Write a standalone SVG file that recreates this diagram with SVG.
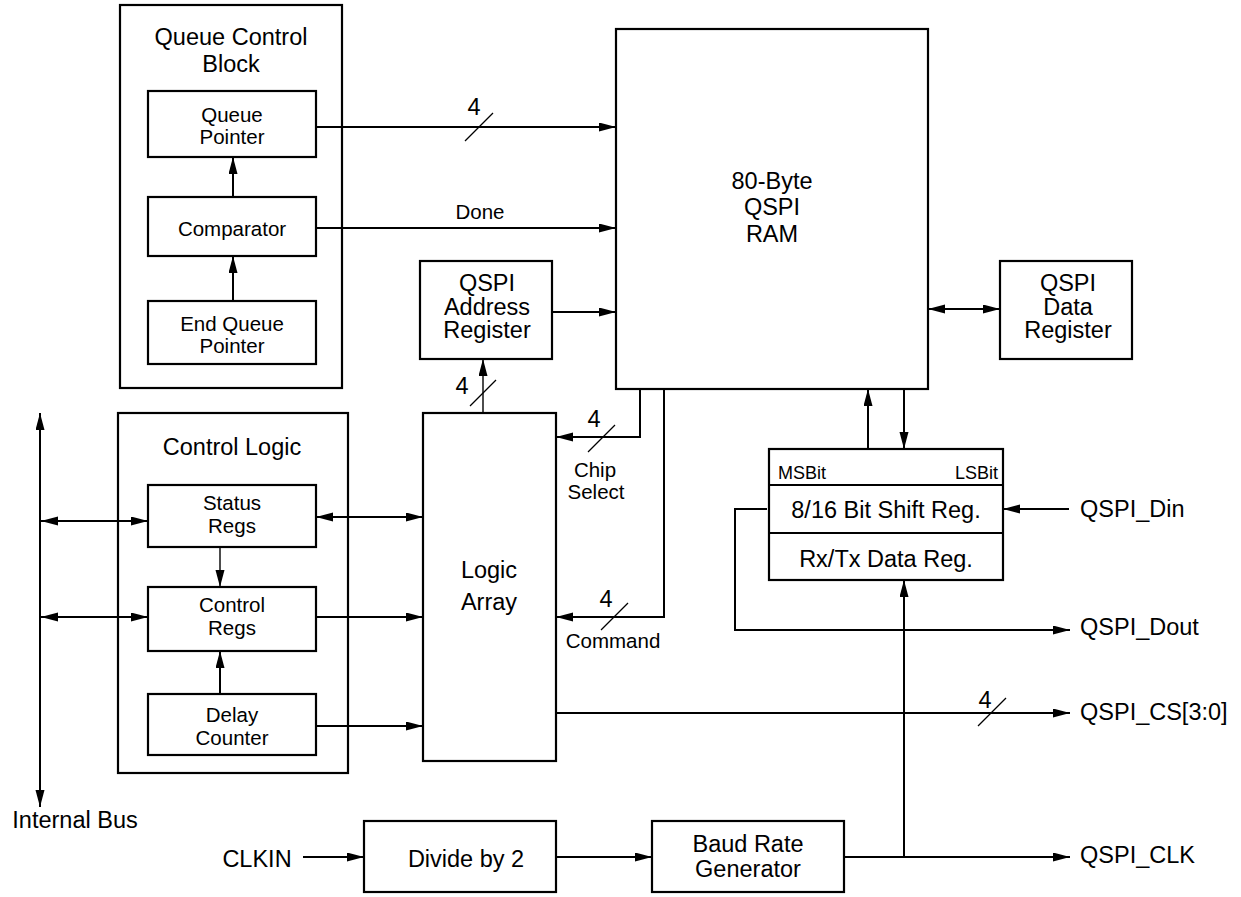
<svg xmlns="http://www.w3.org/2000/svg" width="1241" height="897" viewBox="0 0 1241 897">
<style>
  .box { fill: #fff; stroke: #000; stroke-width: 2.2; }
  .frame { fill: none; stroke: #000; stroke-width: 2.2; }
  .ln { fill: none; stroke: #000; stroke-width: 2; }
  .thin { fill: none; stroke: #000; stroke-width: 1.4; }
  .sl { fill: none; stroke: #000; stroke-width: 1.3; }
  .arr { marker-end: url(#ah); }
  .dbl { marker-start: url(#ah); marker-end: url(#ah); }
  text { font-family: "Liberation Sans", Arial, Helvetica, sans-serif; fill: #000; }
  .t { font-size: 23.5px; text-anchor: middle; }
  .s { font-size: 20.5px; text-anchor: middle; }
  .m { font-size: 18px; }
  .l { font-size: 23.5px; }
</style>
<defs>
  <marker id="ah" markerUnits="userSpaceOnUse" markerWidth="18" markerHeight="10" refX="17" refY="4.5" orient="auto-start-reverse">
    <path d="M0,0 L17,4.5 L0,9 z" fill="#000"/>
  </marker>
</defs>

<g id="queue-control-block">
  <rect class="frame" x="120" y="5" width="222" height="383"/>
  <text class="t" x="231" y="45">Queue Control</text>
  <text class="t" x="231" y="72">Block</text>
</g>
<g id="queue-pointer">
  <rect class="box" x="148" y="91" width="168" height="66"/>
  <text class="s" x="232" y="121.5">Queue</text>
  <text class="s" x="232" y="143.5">Pointer</text>
</g>
<g id="comparator">
  <rect class="box" x="148" y="197" width="168" height="59"/>
  <text class="s" x="232" y="236">Comparator</text>
</g>
<g id="end-queue-pointer">
  <rect class="box" x="148" y="301" width="168" height="63"/>
  <text class="s" x="232" y="331">End Queue</text>
  <text class="s" x="232" y="353">Pointer</text>
</g>

<g id="control-logic">
  <rect class="frame" x="118" y="413" width="230" height="360"/>
  <text class="t" x="232" y="455">Control Logic</text>
</g>
<g id="status-regs">
  <rect class="box" x="148" y="485" width="168" height="62"/>
  <text class="s" x="232" y="510">Status</text>
  <text class="s" x="232" y="533">Regs</text>
</g>
<g id="control-regs">
  <rect class="box" x="148" y="587" width="168" height="64"/>
  <text class="s" x="232" y="612">Control</text>
  <text class="s" x="232" y="635">Regs</text>
</g>
<g id="delay-counter">
  <rect class="box" x="148" y="694" width="168" height="61"/>
  <text class="s" x="232" y="722">Delay</text>
  <text class="s" x="232" y="745">Counter</text>
</g>

<g id="qspi-ram">
  <rect class="box" x="616" y="29" width="312" height="360"/>
  <text class="t" x="772" y="188.5">80-Byte</text>
  <text class="t" x="772" y="215">QSPI</text>
  <text class="t" x="772" y="241.5">RAM</text>
</g>
<g id="qspi-address-register">
  <rect class="box" x="420" y="261" width="132" height="98"/>
  <text class="t" x="487" y="291">QSPI</text>
  <text class="t" x="487" y="314.5">Address</text>
  <text class="t" x="487" y="338">Register</text>
</g>
<g id="qspi-data-register">
  <rect class="box" x="1000" y="261" width="132" height="98"/>
  <text class="t" x="1068" y="291">QSPI</text>
  <text class="t" x="1068" y="314.5">Data</text>
  <text class="t" x="1068" y="338">Register</text>
</g>
<g id="logic-array">
  <rect class="box" x="423" y="413" width="133" height="348"/>
  <text class="t" x="489" y="577.5">Logic</text>
  <text class="t" x="489" y="610">Array</text>
</g>
<g id="shift-register">
  <rect class="box" x="769" y="449" width="234" height="131"/>
  <line class="ln" x1="769" y1="485" x2="1003" y2="485"/>
  <line class="ln" x1="769" y1="533" x2="1003" y2="533"/>
  <text class="m" x="778" y="479">MSBit</text>
  <text class="m" x="998" y="479" text-anchor="end">LSBit</text>
  <text class="t" x="886" y="518">8/16 Bit Shift Reg.</text>
  <text class="t" x="886" y="566.5">Rx/Tx Data Reg.</text>
</g>
<g id="divide-by-2">
  <rect class="box" x="364" y="821" width="192" height="71"/>
  <text class="t" x="466" y="867">Divide by 2</text>
</g>
<g id="baud-rate-generator">
  <rect class="box" x="652" y="821" width="192" height="71"/>
  <text class="t" x="748" y="852">Baud Rate</text>
  <text class="t" x="748" y="877">Generator</text>
</g>

<g id="connectors">
  <line class="ln arr" x1="316" y1="127" x2="616" y2="127"/>
  <line class="sl" x1="465" y1="141" x2="493" y2="113"/>
  <text class="t" x="474" y="115">4</text>
  <line class="ln arr" x1="316" y1="228" x2="616" y2="228"/>
  <text class="s" x="480" y="219">Done</text>
  <line class="ln arr" x1="233" y1="197" x2="233" y2="157"/>
  <line class="ln arr" x1="233" y1="301" x2="233" y2="256"/>

  <line class="ln arr" x1="552" y1="312" x2="616" y2="312"/>
  <line class="thin arr" x1="483" y1="413" x2="483" y2="359"/>
  <line class="sl" x1="470" y1="406" x2="496" y2="380"/>
  <text class="t" x="462" y="394">4</text>

  <polyline class="ln arr" points="640,389 640,437 556,437"/>
  <line class="sl" x1="588" y1="452" x2="615" y2="425"/>
  <text class="t" x="594" y="427">4</text>
  <text class="s" x="595" y="477">Chip</text>
  <text class="s" x="596" y="499">Select</text>
  <polyline class="ln arr" points="664,389 664,617 556,617"/>
  <line class="sl" x1="601" y1="630" x2="628" y2="603"/>
  <text class="t" x="606" y="607">4</text>
  <text class="s" x="613" y="648">Command</text>

  <line class="ln dbl" x1="928" y1="309" x2="1000" y2="309"/>
  <line class="ln arr" x1="868" y1="449" x2="868" y2="389"/>
  <line class="ln arr" x1="904" y1="389" x2="904" y2="449"/>
  <line class="ln arr" x1="1069" y1="509" x2="1003" y2="509"/>
  <text class="l" x="1080" y="517">QSPI_Din</text>
  <polyline class="ln arr" points="767,509 735,509 735,630 1070,630"/>
  <text class="l" x="1080" y="635">QSPI_Dout</text>

  <line class="ln arr" x1="556" y1="713" x2="1070" y2="713"/>
  <line class="sl" x1="978" y1="726" x2="1006" y2="698"/>
  <text class="t" x="985" y="708">4</text>
  <text class="l" x="1080" y="719.5">QSPI_CS[3:0]</text>

  <line class="ln arr" x1="303" y1="857" x2="364" y2="857"/>
  <text class="t" x="257" y="867">CLKIN</text>
  <line class="ln arr" x1="556" y1="857" x2="652" y2="857"/>
  <line class="ln arr" x1="844" y1="857" x2="1070" y2="857"/>
  <line class="ln arr" x1="904" y1="857" x2="904" y2="580"/>
  <text class="l" x="1080" y="863">QSPI_CLK</text>

  <line class="ln dbl" x1="40" y1="413" x2="40" y2="807"/>
  <text class="t" x="75" y="827.5">Internal Bus</text>
  <line class="ln dbl" x1="41" y1="521" x2="148" y2="521"/>
  <line class="ln dbl" x1="41" y1="617" x2="148" y2="617"/>

  <line class="thin arr" x1="220" y1="547" x2="220" y2="587"/>
  <line class="ln arr" x1="220" y1="694" x2="220" y2="651"/>

  <line class="ln dbl" x1="316" y1="517" x2="423" y2="517"/>
  <line class="ln arr" x1="316" y1="617" x2="423" y2="617"/>
  <line class="ln arr" x1="316" y1="726" x2="423" y2="726"/>
</g>
</svg>
